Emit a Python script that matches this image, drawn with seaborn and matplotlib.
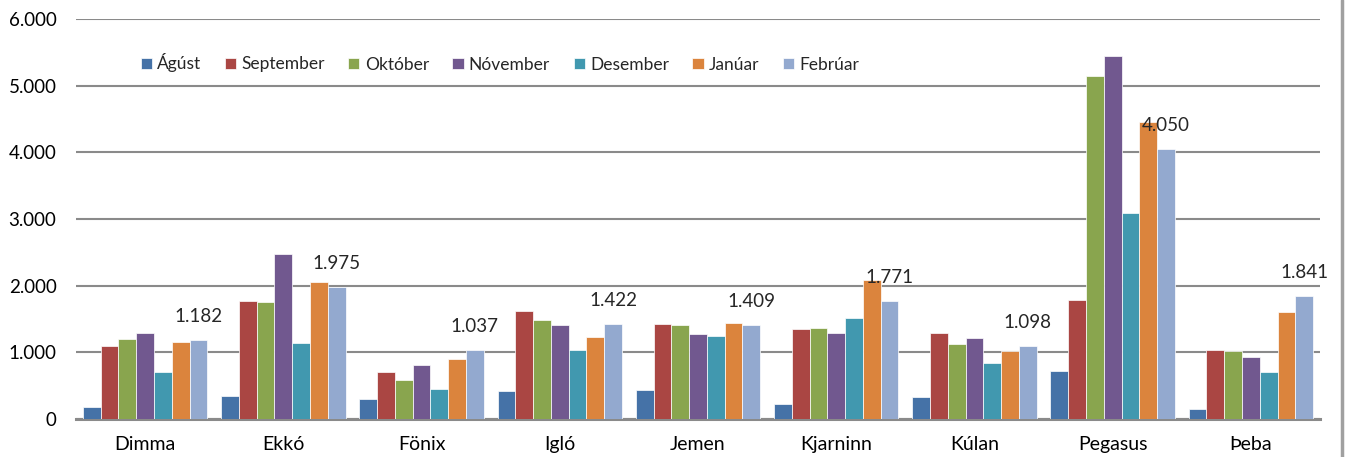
import matplotlib.pyplot as plt
import pandas as pd
import seaborn as sns
from matplotlib.lines import Line2D

# Values
categories = ['Dimma', 'Ekkó', 'Fönix', 'Igló', 'Jemen', 'Kjarninn', 'Kúlan', 'Pegasus', 'Þeba']
months = ['Ágúst', 'September', 'Október', 'Nóvember', 'Desember', 'Janúar', 'Febrúar']

agust = [175, 345, 305, 425, 440, 225, 330, 725, 155]
september = [1090, 1775, 705, 1615, 1420, 1345, 1295, 1780, 1040]
oktober = [1195, 1755, 590, 1490, 1415, 1365, 1120, 5150, 1025]
november = [1290, 2470, 805, 1415, 1280, 1295, 1215, 5450, 935]
desember = [705, 1135, 445, 1040, 1250, 1515, 835, 3085, 705]
januar = [1150, 2050, 895, 1230, 1445, 2090, 1020, 4450, 1610]
februar = [1182, 1975, 1037, 1422, 1409, 1771, 1098, 4050, 1841]

colors = ['#4572A7', '#AA4643', '#89A54E', '#71588F', '#4198AF', '#DB843D', '#93A9CF']

series = [agust, september, oktober, november, desember, januar, februar]
rows = []
for month, vals in zip(months, series):
    for cat, v in zip(categories, vals):
        rows.append({'category': cat, 'month': month, 'value': v})
df = pd.DataFrame(rows)

sns.set_style('white')
plt.rcParams['font.family'] = ['Lato', 'DejaVu Sans']

fig = plt.figure(figsize=(13.45, 4.57), dpi=100)
ax = fig.add_axes([76 / 1345, 38 / 457, 1244 / 1345, 400 / 457])

sns.barplot(data=df, x='category', y='value', hue='month', order=categories,
            hue_order=months, palette=colors, saturation=1, width=0.9, ax=ax,
            edgecolor='white', linewidth=0.5, errorbar=None, zorder=3)

ax.set_ylim(0, 6000)
ax.set_yticks(range(0, 6001, 1000))
ax.set_yticklabels(['0' if t == 0 else f'{t:,}'.replace(',', '.') for t in range(0, 6001, 1000)])
ax.yaxis.grid(True, color='#8a8a8a', linewidth=1.5, zorder=0)
ax.set_axisbelow(True)
ax.set_xlabel('')
ax.set_ylabel('')
ax.tick_params(axis='both', length=0, labelsize=13.5, colors='black')
ax.tick_params(axis='x', labelsize=14, pad=12)
ax.tick_params(axis='y', pad=14)

for side in ['left', 'right', 'top']:
    ax.spines[side].set_visible(False)
ax.spines['bottom'].set_color('#8a8a8a')
ax.spines['bottom'].set_linewidth(2.2)

# Value labels on the Febrúar series only
feb_labels = [f'{v:,}'.replace(',', '.') for v in februar]
ax.bar_label(ax.containers[6], labels=feb_labels, padding=11, fontsize=13.5, zorder=5)

ax.legend(loc='center left', bbox_to_anchor=(0.052, 0.89), ncol=7, frameon=False,
          fontsize=12.5, handlelength=0.65, handleheight=0.65, handletextpad=0.3,
          columnspacing=1.35, borderaxespad=0, borderpad=0)

# chart area border on the right
fig.add_artist(Line2D([1342 / 1345, 1342 / 1345], [0, 1], color='#a0a0a0', linewidth=2.5))

fig.savefig('out.png', dpi=100)
